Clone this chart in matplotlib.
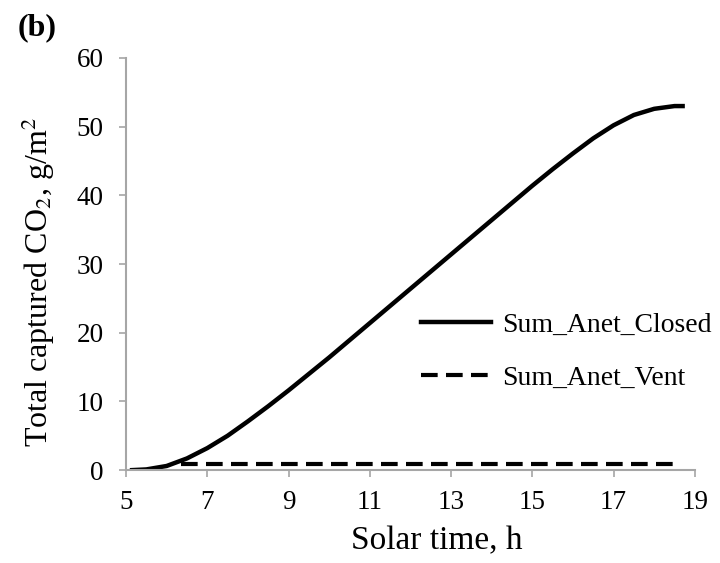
import matplotlib
matplotlib.use('Agg')
import matplotlib.pyplot as plt

plt.rcParams['font.family'] = ['Liberation Serif', 'DejaVu Serif']
plt.rcParams['mathtext.fontset'] = 'stix'

# solar time (h) and cumulative captured CO2 (g/m2)
t_closed = [5.15, 5.5, 6.0, 6.5, 7.0, 7.5, 8.0, 8.5, 9.0, 9.5, 10.0, 10.5, 11.0,
            11.5, 12.0, 12.5, 13.0, 13.5, 14.0, 14.5, 15.0, 15.5, 16.0, 16.5,
            17.0, 17.5, 18.0, 18.5, 18.7]
sum_closed = [0.0, 0.1, 0.6, 1.7, 3.2, 5.0, 7.1, 9.3, 11.6, 14.0, 16.4, 18.9, 21.4,
              23.9, 26.4, 28.9, 31.4, 33.9, 36.4, 38.9, 41.4, 43.8, 46.1, 48.3,
              50.2, 51.7, 52.6, 53.0, 53.0]

t_vent = [6.35, 18.65]
sum_vent = [0.9, 0.9]

fig = plt.figure(figsize=(7.2, 5.63), dpi=100)
ax = fig.add_axes([0.175, 0.165, 0.79, 0.732])

ax.plot(t_closed, sum_closed, color='black', lw=3.2, label='Sum_Anet_Closed')
ax.plot(t_vent, sum_vent, color='black', lw=3, dashes=(4, 2), label='Sum_Anet_Vent')

ax.set_xlim(5, 19)
ax.set_ylim(0, 60)
ax.set_xticks(range(5, 20, 2))
ax.set_yticks(range(0, 61, 10))

for s in ['top', 'right']:
    ax.spines[s].set_visible(False)
for s in ['left', 'bottom']:
    ax.spines[s].set_color('#a6a6a6')
    ax.spines[s].set_linewidth(1.5)
ax.tick_params(direction='out', length=5, width=1.2, color='#a6a6a6',
               labelsize=19.5)
ax.tick_params(axis='y', pad=11)
ax.tick_params(axis='x', pad=9)

ax.set_xlabel('Solar time, h', fontsize=24)
ax.xaxis.set_label_coords(0.547, -0.135)
ax.set_ylabel(r'Total captured CO$_2$, g/m$^2$', fontsize=23)
ax.yaxis.set_label_coords(-0.121, 0.456)

ax.legend(loc='upper left', bbox_to_anchor=(0.475, 0.444), frameon=False,
          fontsize=20, handlelength=2.5, labelspacing=1.0, handletextpad=0.4)

fig.text(0.025, 0.95, '(b)', fontsize=23, fontweight='bold', ha='left', va='center')

fig.savefig('out.png', dpi=100)
